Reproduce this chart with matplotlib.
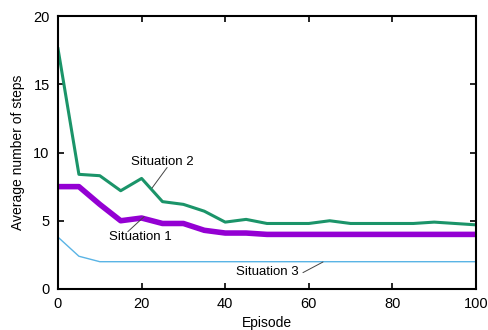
import matplotlib
matplotlib.use("Agg")
import matplotlib.pyplot as plt

episodes = [0, 5, 10, 15, 20, 25, 30, 35, 40, 45, 50, 55, 60, 65, 70, 75, 80, 85, 90, 95, 100]
situation1 = [7.5, 7.5, 6.2, 5.0, 5.2, 4.8, 4.8, 4.3, 4.1, 4.1, 4.0, 4.0, 4.0, 4.0, 4.0, 4.0, 4.0, 4.0, 4.0, 4.0, 4.0]
situation2 = [17.6, 8.4, 8.3, 7.2, 8.1, 6.4, 6.2, 5.7, 4.9, 5.1, 4.8, 4.8, 4.8, 5.0, 4.8, 4.8, 4.8, 4.8, 4.9, 4.8, 4.7]
situation3 = [3.8, 2.4, 2.0, 2.0, 2.0, 2.0, 2.0, 2.0, 2.0, 2.0, 2.0, 2.0, 2.0, 2.0, 2.0, 2.0, 2.0, 2.0, 2.0, 2.0, 2.0]
xticks = [0, 20, 40, 60, 80, 100]
yticks = [0, 5, 10, 15, 20]

plt.rcParams['font.family'] = ['Liberation Sans', 'DejaVu Sans']
fig = plt.figure(figsize=(4.89, 3.30), dpi=100)
ax = fig.add_axes([58/489, 1-289/330, (476-58)/489, (289-16)/330])

ax.plot(episodes, situation3, color='#5ab4e5', lw=1.0)
ax.plot(episodes, situation2, color='#1b9469', lw=2.2)
ax.plot(episodes, situation1, color='#9400d3', lw=4.0)

ax.set_xlim(0, 100)
ax.set_ylim(0, 20)
ax.set_xticks(xticks)
ax.set_yticks(yticks)
ax.tick_params(direction='in', top=True, right=True, labelsize=10.5, length=4, width=1.2, pad=6)
for s in ax.spines.values():
    s.set_linewidth(1.5)
ax.set_xlabel('Episode', fontsize=10, labelpad=3)
ax.set_ylabel('Average number of steps', fontsize=10, labelpad=6)

lk = dict(arrowstyle='-', color='#444444', lw=0.7, shrinkA=0, shrinkB=0)
ax.text(24.9, 9.3, 'Situation 2', ha='center', va='center', fontsize=9.5)
ax.annotate('', xy=(22.5, 7.4), xytext=(26.1, 8.9), arrowprops=lk)
ax.text(19.6, 3.8, 'Situation 1', ha='center', va='center', fontsize=9.5)
ax.annotate('', xy=(20.6, 5.3), xytext=(16.7, 4.2), arrowprops=lk)
ax.text(50.0, 1.25, 'Situation 3', ha='center', va='center', fontsize=9.5)
ax.annotate('', xy=(63.4, 1.98), xytext=(58.6, 1.2), arrowprops=lk)

fig.savefig('out.png', dpi=100)
